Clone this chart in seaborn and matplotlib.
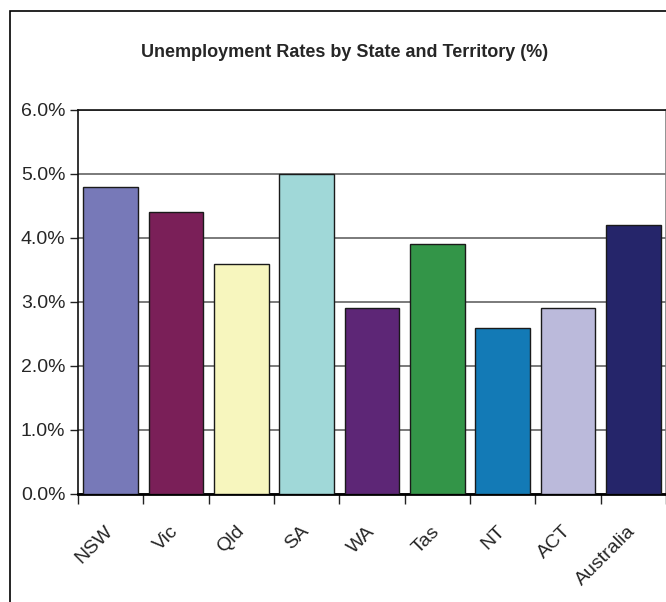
import matplotlib
matplotlib.use("Agg")
import matplotlib.pyplot as plt
import matplotlib.patches as patches
from matplotlib.ticker import FixedLocator, FuncFormatter
import seaborn as sns

# Data
states = ["NSW", "Vic", "Qld", "SA", "WA", "Tas", "NT", "ACT", "Australia"]
rates = [4.8, 4.4, 3.6, 5.0, 2.9, 3.9, 2.6, 2.9, 4.2]
colors = ["#7779B8", "#7A1F58", "#F7F6BE", "#A0D8D8", "#5D2676",
          "#339548", "#137AB6", "#BBBADB", "#25256A"]
title = "Unemployment Rates by State and Territory (%)"

sns.set_style("white")
plt.rcParams["font.family"] = ["Liberation Sans", "DejaVu Sans"]

W, H = 666, 602
fig = plt.figure(figsize=(W / 100, H / 100), dpi=100)
ax = fig.add_axes([78 / W, 1 - 494 / H, 588 / W, 384 / H])

sns.barplot(x=states, y=rates, hue=states, palette=colors, legend=False,
            width=0.84, edgecolor="#1a1a1a", linewidth=1.0, saturation=1,
            ax=ax, zorder=3)

ax.set_xlim(-0.5, len(states) - 0.5)
ax.set_ylim(0, 6)
ax.set_yticks([0, 1, 2, 3, 4, 5, 6])
ax.yaxis.set_major_formatter(FuncFormatter(lambda v, p: f"{v:.1f}%"))
ax.grid(axis="y", color="#707070", linewidth=1.3, zorder=0)
ax.set_axisbelow(True)

# ticks sit between the categories, labels at the centres
ax.xaxis.set_minor_locator(FixedLocator([i - 0.5 for i in range(len(states) + 1)]))
ax.tick_params(axis="x", which="major", length=0, pad=25, labelsize=14)
ax.tick_params(axis="x", which="minor", length=7, width=1, color="#222222",
               direction="out", bottom=True)
ax.tick_params(axis="y", length=6, width=1, color="#222222", direction="out",
               left=True, labelsize=14, pad=3)
for lbl in ax.get_xticklabels():
    lbl.set_rotation(45)
    lbl.set_ha("right")
    lbl.set_va("center")
    lbl.set_rotation_mode("anchor")

for side in ["left", "top"]:
    ax.spines[side].set_color("#111111")
    ax.spines[side].set_linewidth(1.2)
ax.spines["right"].set_color("#808080")
ax.spines["right"].set_linewidth(1.2)
ax.spines["bottom"].set_color("#000000")
ax.spines["bottom"].set_linewidth(2)
ax.set_xlabel("")
ax.set_ylabel("")

fig.text(344.5 / W, 1 - 57 / H, title, ha="center", va="baseline",
         fontsize=13, fontweight="bold")

# outer chart frame (runs off the right and bottom edges)
frame = patches.Rectangle((10.5 / W, -0.2), 1.2, 1 - 10.5 / H + 0.2,
                          transform=fig.transFigure, fill=False,
                          edgecolor="#000000", linewidth=1.2, clip_on=False)
fig.patches.append(frame)

fig.savefig("out.png", dpi=100)
